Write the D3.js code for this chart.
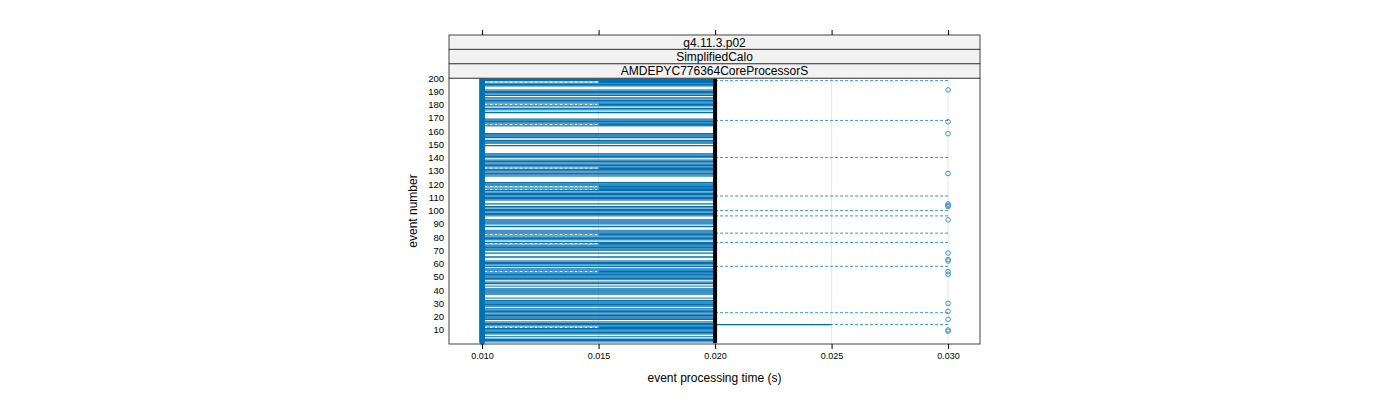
<!DOCTYPE html><html><head><meta charset="utf-8"><script src="https://cdn.jsdelivr.net/npm/d3@7"></script>
<style>body{margin:0;background:#fff}text{font-family:"Liberation Sans",Arial,sans-serif}</style></head><body><svg id="c" width="1400" height="400"></svg><script>
const strips=["g4.11.3.p02","SimplifiedCalo","AMDEPYC776364CoreProcessorS"];
const xTicks=[0.010,0.015,0.020,0.025,0.030];
const yTicks=[10,20,30,40,50,60,70,80,90,100,110,120,130,140,150,160,170,180,190,200];
const gapEvents=[4,6,17,27,33,35,36,42,44,47,57,63,64,66,67,69,77,86,87,89,94,95,104,106,107,122,123,124,125,139,144,145,146,147,148,150,154,159,160,161,162,163,170,171,172,173,175,178,186,192,193];
const halfDashEvents=[12,54,75,82,116,118,132,165,180,197];
const outlierLineEvents=[14,23,58,76,83,96,100,111,140,168,198];
const outlierEvents=[9,10,18,24,30,52,54,62,63,68,93,103,104,105,128,158,167,191];
const longEvent=[14];
const solidEvents=d3.range(1,201).filter(e=>!gapEvents.includes(e)&&!halfDashEvents.includes(e));
const svg=d3.select("#c");
const L=449,R=980,T=78,B=344;
const x=d3.scaleLinear().domain([0.00858,0.03137]).range([L,R]);
const y=d3.scaleLinear().domain([-0.6,200]).range([B,T]);
const blue="#0072b2",lb="#3a93cf";
// grid
svg.selectAll("line.g").data([0.015,0.025,0.030]).join("line").attr("x1",d=>x(d)).attr("x2",d=>x(d)).attr("y1",T).attr("y2",B).attr("stroke","#e6e6e6");
// solid lines
const g=svg.append("g");
g.selectAll("line.s").data(solidEvents).join("line").attr("x1",x(0.010)).attr("x2",x(0.020)).attr("y1",d=>y(d)).attr("y2",d=>y(d)).attr("stroke",(d,i)=>i%3==0?"#3d8ec4":blue).attr("stroke-width",1.3);
g.selectAll("line.h").data(halfDashEvents).join("line").attr("x1",x(0.010)).attr("x2",x(0.015)).attr("y1",d=>y(d)).attr("y2",d=>y(d)).attr("stroke","#6aaad6").attr("stroke-dasharray","3,2").attr("stroke-width",1.2);
g.selectAll("line.h2").data(halfDashEvents).join("line").attr("x1",x(0.015)).attr("x2",x(0.020)).attr("y1",d=>y(d)).attr("y2",d=>y(d)).attr("stroke",blue).attr("stroke-width",2);
g.selectAll("line.o").data(outlierLineEvents).join("line").attr("x1",x(0.020)).attr("x2",x(0.030)).attr("y1",d=>y(d)).attr("y2",d=>y(d)).attr("stroke",lb).attr("stroke-dasharray","3,2");
g.selectAll("line.l").data(longEvent).join("line").attr("x1",x(0.020)).attr("x2",x(0.025)).attr("y1",d=>y(d)).attr("y2",d=>y(d)).attr("stroke",blue).attr("stroke-width",1.3);
// point columns
g.selectAll("circle.a").data(d3.range(1,201)).join("circle").attr("cx",x(0.010)).attr("cy",d=>y(d)).attr("r",2).attr("fill","none").attr("stroke",blue).attr("stroke-width",1.5);
svg.append("line").attr("x1",x(0.020)).attr("x2",x(0.020)).attr("y1",y(200)).attr("y2",y(0)).attr("stroke","#000").attr("stroke-width",4);
g.selectAll("circle.o").data(outlierEvents).join("circle").attr("cx",x(0.030)).attr("cy",d=>y(d)).attr("r",2.3).attr("fill","none").attr("stroke",lb).attr("stroke-width",1);
// frame
svg.append("rect").attr("x",L).attr("y",T).attr("width",R-L).attr("height",B-T).attr("fill","none").attr("stroke","#444");
strips.forEach((s,i)=>{const yy=35+i*14.4;svg.append("rect").attr("x",L).attr("y",yy).attr("width",R-L).attr("height",14.4).attr("fill","#f2f2f2").attr("stroke","#444");
svg.append("text").attr("x",(L+R)/2).attr("y",yy+11.5).attr("text-anchor","middle").attr("font-size",12).text(s);});
// x axis
const xa=svg.append("g").attr("transform",`translate(0,${B})`).call(d3.axisBottom(x).tickValues(xTicks).tickFormat(d3.format(".3f")).tickSize(5).tickPadding(4));
xa.select(".domain").remove();xa.selectAll("text").attr("font-size",9);
const xt=svg.append("g").attr("transform","translate(0,35)").call(d3.axisTop(x).tickValues(xTicks).tickFormat("").tickSize(5));xt.select(".domain").remove();
const ya=svg.append("g").attr("transform",`translate(${L},0)`).call(d3.axisLeft(y).tickValues(yTicks).tickSize(0).tickPadding(5));
ya.select(".domain").remove();ya.selectAll("text").attr("font-size",9.5);
svg.append("text").attr("x",(L+R)/2).attr("y",382).attr("text-anchor","middle").attr("font-size",12).text("event processing time (s)");
svg.append("text").attr("transform",`translate(417,${(T+B)/2}) rotate(-90)`).attr("text-anchor","middle").attr("font-size",12).text("event number");
</script></body></html>
